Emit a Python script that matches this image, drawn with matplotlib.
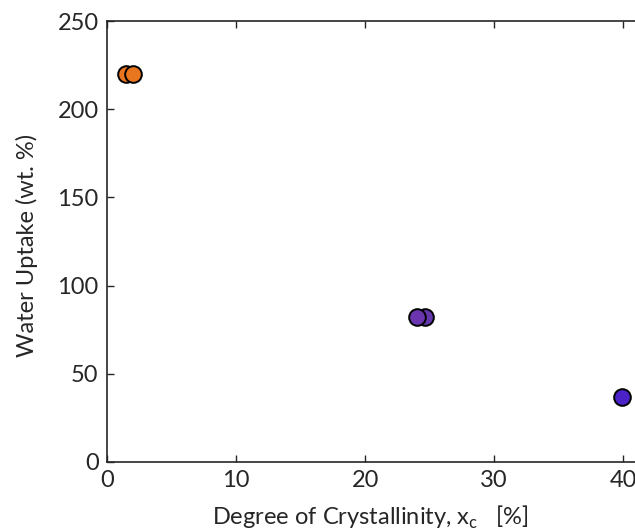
import matplotlib
matplotlib.use("Agg")
import matplotlib.pyplot as plt

plt.rcParams['font.family'] = ['Lato', 'DejaVu Sans']

# samples: crystallinity (%) vs water uptake (wt. %)
orange_x = [1.5, 2.0]
orange_y = [220, 220]
purple_x = [24.65, 24.0]
purple_y = [82, 82]
blue_x = [39.9]
blue_y = [37]

orange_c = ['#e8761f', '#e8761f']
purple_c = ['#6438ac', '#6a35ae']
blue_c = ['#4a22c8']

fig = plt.figure(figsize=(6.35, 5.32), dpi=100)
# axes run past the right edge of the figure (cropped like the source)
ax = fig.add_axes([107 / 635, 70 / 532, 542 / 635, 441 / 532])

for xs, ys, cs in [(orange_x, orange_y, orange_c),
                   (purple_x, purple_y, purple_c),
                   (blue_x, blue_y, blue_c)]:
    for x, y, c in zip(xs, ys, cs):
        ax.plot(x, y, 'o', ms=12, mfc=c, mec='k', mew=1.4, clip_on=False)

ax.set_xlim(0, 42)
ax.set_ylim(0, 250)
ax.set_xticks([0, 10, 20, 30, 40])
ax.set_yticks([0, 50, 100, 150, 200, 250])

ax.tick_params(direction='in', length=5, width=1, top=True, right=True,
               labelsize=17, colors='#262626', pad=6)
for s in ax.spines.values():
    s.set_linewidth(1.2)
    s.set_color('#262626')

ax.set_xlabel('Degree of Crystallinity, x$_{\\mathregular{c}}$   [%]', fontsize=17,
              color='#262626')
ax.set_ylabel('Water Uptake (wt. %)', fontsize=17, color='#262626')
ax.xaxis.set_label_coords(263 / 542, -0.095)
ax.yaxis.set_label_coords(-0.128, 0.49)

fig.savefig('out.png', dpi=100)
